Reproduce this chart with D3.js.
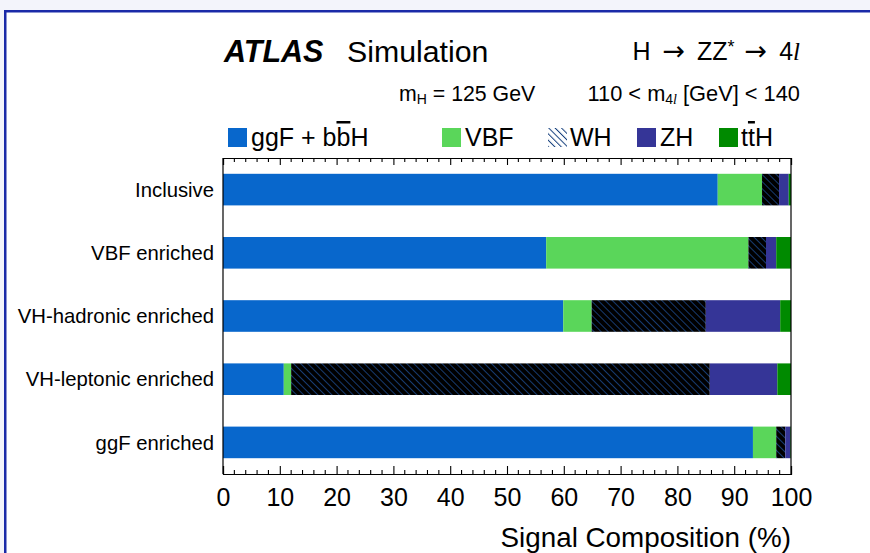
<!DOCTYPE html>
<html><head><meta charset="utf-8">
<script src="https://cdn.jsdelivr.net/npm/d3@7"></script>
<style>body{margin:0;background:#fff}svg{display:block}text{font-family:"Liberation Sans",Arial,Helvetica,sans-serif;fill:#000}</style>
</head><body><svg id="c" width="870" height="553"></svg>
<script>
const categories = ["Inclusive","VBF enriched","VH-hadronic enriched","VH-leptonic enriched","ggF enriched"];
const seriesNames = ["ggF","VBF","WH","ZH","ttH"];
const ggF = [87.1, 56.9, 59.9, 10.7, 93.3];
const VBF = [7.8, 35.6, 5.0, 1.3, 4.1];
const WH  = [3.0, 3.1, 20.1, 73.7, 1.6];
const ZH  = [1.7, 1.8, 13.1, 11.9, 0.9];
const ttH = [0.4, 2.6, 1.9, 2.4, 0.1];
const xTicks = [0,10,20,30,40,50,60,70,80,90,100];

const colors = {ggF:"#0867cc", VBF:"#5ad65a", WH:"url(#hatchBar)", ZH:"#353597", ttH:"#008a00"};
const svg = d3.select("#c");

// outer frame
svg.append("rect").attr("x",0).attr("y",0).attr("width",870).attr("height",10).attr("fill","#f3f4fb");
svg.append("rect").attr("x",0).attr("y",0).attr("width",4).attr("height",553).attr("fill","#f3f4fb");
svg.append("rect").attr("x",4).attr("y",10).attr("width",866).attr("height",2.5).attr("fill","#1a2aa8");
svg.append("rect").attr("x",4).attr("y",10).attr("width",2.5).attr("height",543).attr("fill","#1a2aa8");

const defs = svg.append("defs");
const pb = defs.append("pattern").attr("id","hatchBar").attr("patternUnits","userSpaceOnUse")
  .attr("width",5).attr("height",5).attr("patternTransform","rotate(-45)");
pb.append("rect").attr("width",5).attr("height",5).attr("fill","#000");
pb.append("line").attr("x1",0).attr("y1",0).attr("x2",0).attr("y2",5).attr("stroke","#1d4a8c").attr("stroke-width",1.6);
const pl = defs.append("pattern").attr("id","hatchLeg").attr("patternUnits","userSpaceOnUse")
  .attr("width",4.5).attr("height",4.5).attr("patternTransform","rotate(-45)");
pl.append("rect").attr("width",4.5).attr("height",4.5).attr("fill","#fff");
pl.append("line").attr("x1",0).attr("y1",0).attr("x2",0).attr("y2",4.5).attr("stroke","#16407e").attr("stroke-width",2);

const x0 = 223, x1 = 791, yTop = 158, yBot = 474;
const x = d3.scaleLinear().domain([0,100]).range([x0,x1]);
const y = d3.scaleBand().domain(categories).range([yTop,yBot]).paddingInner(0.5).paddingOuter(0.25);

const data = categories.map((c,i)=>({cat:c, ggF:ggF[i], VBF:VBF[i], WH:WH[i], ZH:ZH[i], ttH:ttH[i]}));
const stack = d3.stack().keys(seriesNames)(data);

const g = svg.append("g");
stack.forEach(layer=>{
  g.append("g").selectAll("rect").data(layer).join("rect")
    .attr("x",d=>x(d[0])).attr("width",d=>Math.max(0,x(d[1])-x(d[0])))
    .attr("y",d=>y(d.data.cat)).attr("height",y.bandwidth())
    .attr("fill",colors[layer.key]);
});

// frame lines
svg.append("line").attr("x1",x0).attr("x2",x0).attr("y1",yTop).attr("y2",yBot).attr("stroke","#000").attr("stroke-width",1.2);
svg.append("line").attr("x1",x1).attr("x2",x1).attr("y1",yTop).attr("y2",yBot).attr("stroke","#000").attr("stroke-width",1.2);

// bottom axis
const minor = d3.range(0,101,2).filter(v=>v%10!==0);
const axB = svg.append("g").attr("transform",`translate(0,${yBot})`)
  .call(d3.axisBottom(x).tickValues(xTicks).tickSize(-8).tickPadding(14).tickFormat(d3.format("d")));
axB.select(".domain").attr("stroke","#000").attr("stroke-width",1.2);
axB.selectAll(".tick line").attr("stroke","#000").attr("stroke-width",1.1);
axB.selectAll(".tick text").attr("font-size",25).attr("font-family","Liberation Sans, Arial, sans-serif").attr("fill","#000");
axB.selectAll("line.minor").data(minor).join("line").attr("class","minor")
  .attr("x1",d=>x(d)).attr("x2",d=>x(d)).attr("y1",0).attr("y2",-4).attr("stroke","#000").attr("stroke-width",1.1);

// top axis
const axT = svg.append("g").attr("transform",`translate(0,${yTop})`)
  .call(d3.axisTop(x).tickValues(xTicks).tickSize(-7).tickFormat(""));
axT.select(".domain").attr("stroke","#000").attr("stroke-width",1.2);
axT.selectAll(".tick line").attr("stroke","#000").attr("stroke-width",1.1);
axT.selectAll("line.minor").data(minor).join("line").attr("class","minor")
  .attr("x1",d=>x(d)).attr("x2",d=>x(d)).attr("y1",0).attr("y2",4).attr("stroke","#000").attr("stroke-width",1.1);

// category labels
svg.append("g").selectAll("text").data(categories).join("text")
  .attr("x",214).attr("y",d=>y(d)+y.bandwidth()/2).attr("dy","0.35em")
  .attr("text-anchor","end").attr("font-size",20.3).text(d=>d);

// axis title
svg.append("text").attr("x",791).attr("y",547).attr("text-anchor","end").attr("font-size",27.8).text("Signal Composition (%)");

// header
svg.append("text").attr("x",224).attr("y",62).attr("font-size",30.5).attr("font-weight","bold").attr("font-style","italic").text("ATLAS");
svg.append("text").attr("x",347).attr("y",62).attr("font-size",30.3).text("Simulation");
const hz = svg.append("text").attr("x",800).attr("y",60).attr("text-anchor","end").attr("font-size",25);
hz.append("tspan").text("H ");
hz.append("tspan").attr("dx",5).attr("font-family","DejaVu Sans").attr("font-size",27).text("\u2192");
hz.append("tspan").attr("dx",5).text(" ZZ");
hz.append("tspan").attr("font-size",18).attr("dy",-7).text("*");
hz.append("tspan").attr("dy",7).attr("dx",3).text(" ");
hz.append("tspan").attr("font-family","DejaVu Sans").attr("font-size",27).text("\u2192");
hz.append("tspan").attr("dx",5).text(" 4");
hz.append("tspan").attr("font-family","Liberation Serif").attr("font-style","italic").text("l");

const mh = svg.append("text").attr("x",399).attr("y",101).attr("font-size",21.3);
mh.append("tspan").text("m");
mh.append("tspan").attr("font-size",14).attr("dy",3).text("H");
mh.append("tspan").attr("dy",-3).text(" = 125 GeV");
const ml = svg.append("text").attr("x",800).attr("y",101).attr("text-anchor","end").attr("font-size",21.8);
ml.append("tspan").text("110 < m");
ml.append("tspan").attr("font-size",14).attr("dy",3).text("4");
ml.append("tspan").attr("font-size",14).attr("font-family","Liberation Serif").attr("font-style","italic").text("l");
ml.append("tspan").attr("dy",-3).text(" [GeV] < 140");

// legend
const legend = [
  {key:"ggF", bx:228, tx:251},
  {key:"VBF", bx:442, tx:465},
  {key:"WH", bx:548, tx:570},
  {key:"ZH", bx:637, tx:660},
  {key:"ttH", bx:719, tx:741}
];
legend.forEach(l=>{
  svg.append("rect").attr("x",l.bx).attr("y",128).attr("width",19).attr("height",19)
    .attr("fill", l.key==="WH" ? "url(#hatchLeg)" : colors[l.key]);
  const t = svg.append("text").attr("x",l.tx).attr("y",146).attr("font-size",25);
  if(l.key==="ggF"){ t.append("tspan").text("ggF + b"); t.append("tspan").attr("text-decoration","overline").text("b"); t.append("tspan").text("H"); }
  else if(l.key==="ttH"){ t.append("tspan").text("t"); t.append("tspan").attr("text-decoration","overline").text("t"); t.append("tspan").text("H"); }
  else t.text(l.key);
});
</script></body></html>
